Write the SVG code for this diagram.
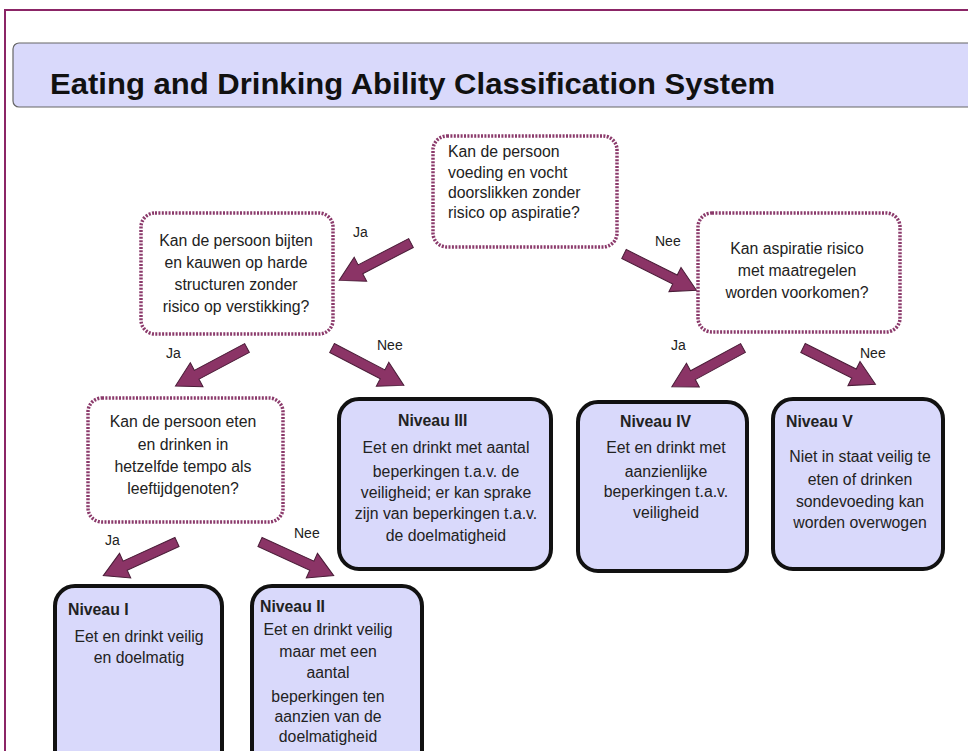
<svg xmlns="http://www.w3.org/2000/svg" xmlns:xlink="http://www.w3.org/1999/xlink" width="968" height="751" viewBox="0 0 968 751">
<style>
.frame{fill:none;stroke:#8B2566;stroke-width:2}
.title-bar{fill:#D9D9FB;stroke:#666;stroke-width:1.2}
.title{font-family:"Liberation Sans",Arial,sans-serif;font-weight:bold;font-size:29px;fill:#111}
.q{fill:#fff;stroke:#8B3A6B;stroke-width:3.5;stroke-dasharray:2 1.4}
.r{fill:#D9D9FB;stroke:#111;stroke-width:4}
.t{font-family:"Liberation Sans",Arial,sans-serif;font-size:15.8px;fill:#222}
.c{text-anchor:middle}
.h{font-weight:bold}
.lbl{font-family:"Liberation Sans",Arial,sans-serif;font-size:14px;fill:#222}
.arr{fill:#8B3466;stroke:#4a1d38;stroke-width:1}
</style>
<defs>
<path id="arrow" d="M0,-5 L57,-5 L57,-13.5 L81,0 L57,13.5 L57,5 L0,5 Z"/>
</defs>
<rect width="968" height="751" fill="#fff"/>
<path class="frame" d="M5,751 L5,10 L968,10"/>
<g id="title">
<rect class="title-bar" x="13" y="43" width="970" height="64" rx="6"/>
<text class="title" x="50" y="94" textLength="725" lengthAdjust="spacingAndGlyphs">Eating and Drinking Ability Classification System</text>
</g>

<g id="connectors">
<use href="#arrow" class="arr" transform="translate(411,243) rotate(152.5)"/>
<use href="#arrow" class="arr" transform="translate(624,254) rotate(26.6)"/>
<use href="#arrow" class="arr" transform="translate(247,348) rotate(152)"/>
<use href="#arrow" class="arr" transform="translate(332,348) rotate(27.5)"/>
<use href="#arrow" class="arr" transform="translate(743,348) rotate(151.5)"/>
<use href="#arrow" class="arr" transform="translate(803,348) rotate(26.6)"/>
<use href="#arrow" class="arr" transform="translate(177,542) rotate(155.5)"/>
<use href="#arrow" class="arr" transform="translate(260,542) rotate(24.5)"/>
<text class="lbl" x="353" y="237">Ja</text>
<text class="lbl" x="655" y="246">Nee</text>
<text class="lbl" x="166" y="358">Ja</text>
<text class="lbl" x="377" y="350">Nee</text>
<text class="lbl" x="671" y="350">Ja</text>
<text class="lbl" x="860" y="358">Nee</text>
<text class="lbl" x="105" y="545">Ja</text>
<text class="lbl" x="294" y="538">Nee</text>
</g>

<g id="q1">
<rect class="q" x="433" y="136" width="184" height="111" rx="14"/>
<text class="t" x="448" y="157">Kan de persoon</text>
<text class="t" x="448" y="178">voeding en vocht</text>
<text class="t" x="448" y="198">doorslikken zonder</text>
<text class="t" x="448" y="218">risico op aspiratie?</text>
</g>

<g id="q2">
<rect class="q" x="141" y="213" width="192" height="121" rx="14"/>
<text class="t c" x="236" y="246">Kan de persoon bijten</text>
<text class="t c" x="236" y="268">en kauwen op harde</text>
<text class="t c" x="236" y="290">structuren zonder</text>
<text class="t c" x="236" y="312">risico op verstikking?</text>
</g>

<g id="q3">
<rect class="q" x="698" y="213" width="202" height="119" rx="14"/>
<text class="t c" x="797" y="254">Kan aspiratie risico</text>
<text class="t c" x="797" y="276">met maatregelen</text>
<text class="t c" x="797" y="298">worden voorkomen?</text>
</g>

<g id="q4">
<rect class="q" x="88" y="398" width="195" height="124" rx="14"/>
<text class="t c" x="183" y="427">Kan de persoon eten</text>
<text class="t c" x="183" y="450">en drinken in</text>
<text class="t c" x="183" y="472">hetzelfde tempo als</text>
<text class="t c" x="183" y="494">leeftijdgenoten?</text>
</g>

<g id="niveau3">
<rect class="r" x="339" y="399" width="212" height="170" rx="20"/>
<text class="t h" x="398" y="426">Niveau III</text>
<text class="t c" x="446" y="453">Eet en drinkt met aantal</text>
<text class="t c" x="446" y="477">beperkingen t.a.v. de</text>
<text class="t c" x="446" y="498">veiligheid; er kan sprake</text>
<text class="t c" x="446" y="519">zijn van beperkingen t.a.v.</text>
<text class="t c" x="446" y="541">de doelmatigheid</text>
</g>

<g id="niveau4">
<rect class="r" x="578" y="402" width="169" height="169" rx="20"/>
<text class="t h" x="620" y="427">Niveau IV</text>
<text class="t c" x="666" y="453">Eet en drinkt met</text>
<text class="t c" x="666" y="477">aanzienlijke</text>
<text class="t c" x="666" y="497">beperkingen t.a.v.</text>
<text class="t c" x="666" y="518">veiligheid</text>
</g>

<g id="niveau5">
<rect class="r" x="773" y="399" width="170" height="170" rx="20"/>
<text class="t h" x="786" y="427">Niveau V</text>
<text class="t c" x="860" y="462">Niet in staat veilig te</text>
<text class="t c" x="860" y="485">eten of drinken</text>
<text class="t c" x="860" y="507">sondevoeding kan</text>
<text class="t c" x="860" y="528">worden overwogen</text>
</g>

<g id="niveau1">
<rect class="r" x="55" y="586" width="167" height="190" rx="20"/>
<text class="t h" x="68" y="615">Niveau I</text>
<text class="t c" x="139" y="642">Eet en drinkt veilig</text>
<text class="t c" x="139" y="663">en doelmatig</text>
</g>

<g id="niveau2">
<rect class="r" x="252" y="586" width="170" height="190" rx="20"/>
<text class="t h" x="260" y="612">Niveau II</text>
<text class="t c" x="328" y="635">Eet en drinkt veilig</text>
<text class="t c" x="328" y="657">maar met een</text>
<text class="t c" x="328" y="678">aantal</text>
<text class="t c" x="328" y="702">beperkingen ten</text>
<text class="t c" x="328" y="722">aanzien van de</text>
<text class="t c" x="328" y="742">doelmatigheid</text>
</g>
</svg>
